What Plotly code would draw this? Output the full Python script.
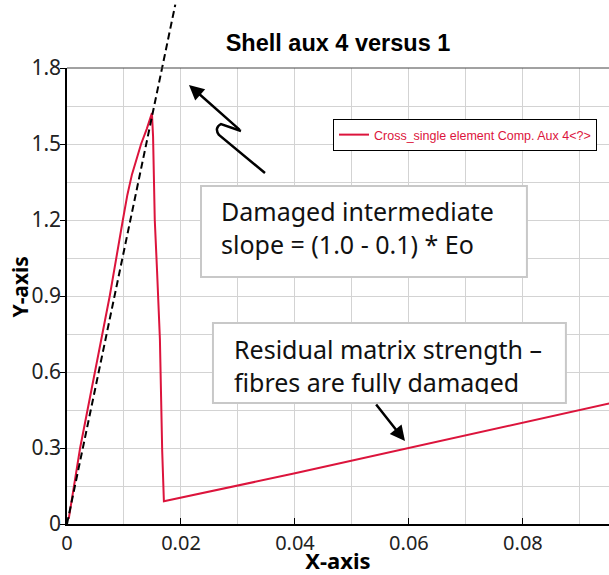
import plotly.graph_objects as go

# ---- data ----
rise_x = [0.0003, 0.0023, 0.0049, 0.0075, 0.0098, 0.0106, 0.0114, 0.0122, 0.0130, 0.0140, 0.0149]
rise_y = [0.02, 0.30, 0.60, 0.90, 1.20, 1.30, 1.38, 1.44, 1.50, 1.56, 1.622]
drop_x = [0.0151, 0.0153, 0.0154, 0.0158, 0.0163, 0.0167, 0.0169, 0.0170]
drop_y = [1.53, 1.35, 1.20, 1.00, 0.73, 0.29, 0.15, 0.09]
resid_x = [0.0400, 0.0600, 0.0960]
resid_y = [0.200, 0.300, 0.480]
curve_x = rise_x + drop_x + resid_x
curve_y = rise_y + drop_y + resid_y

slope_x = [0.0, 0.0190]
slope_y = [0.0, 2.05]

series_name = "Cross_single element Comp. Aux 4&lt;?&gt;"
title_text = "Shell aux 4 versus 1"
x_title = "X-axis"
y_title = "Y-axis"
x_ticks = [0, 0.02, 0.04, 0.06, 0.08]
y_ticks = [0, 0.3, 0.6, 0.9, 1.2, 1.5, 1.8]
note1 = "Damaged intermediate<br>slope = (1.0 - 0.1) * Eo"
note2 = "Residual matrix strength \u2013<br>fibres are fully damaged"

RED = "#dc143c"
X_RANGE = [0, 0.0951]
Y_RANGE = [0, 1.8]
Y_DOM_TOP = 456 / 524

fig = go.Figure()
fig.add_trace(go.Scatter(x=curve_x, y=curve_y, mode="lines", name=series_name,
                         line=dict(color=RED, width=2)))
fig.add_trace(go.Scatter(x=slope_x, y=slope_y, mode="lines", showlegend=False,
                         xaxis="x2", yaxis="y2",
                         line=dict(color="black", width=2, dash="7px,4px")))

grid = "#d3d3d3"
fig.update_layout(
    width=609, height=575, autosize=False,
    margin=dict(l=67, r=0, t=0, b=51, pad=0, autoexpand=False),
    paper_bgcolor="white", plot_bgcolor="rgba(0,0,0,0)",
    title=dict(text=f"<b>{title_text}</b>", x=0.5, xref="paper", xanchor="center",
               y=1 - 43 / 575, yref="container", yanchor="middle", automargin=False,
               font=dict(family="Liberation Sans", size=23.5, color="black")),
    xaxis=dict(range=X_RANGE, domain=[0, 1], tickvals=x_ticks, showgrid=True,
               automargin=False, layer="above traces",
               gridcolor=grid, gridwidth=1,
               minor=dict(dtick=0.01, showgrid=True, gridcolor=grid, gridwidth=1),
               showline=True, linecolor="black", linewidth=2,
               ticks="inside", ticklen=6, tickcolor="black", zeroline=False,
               tickfont=dict(family="Noto Sans", size=20, color="#222"),
               title=dict(text=f"<b>{x_title}</b>", standoff=10,
                          font=dict(family="Noto Sans", size=22, color="black"))),
    yaxis=dict(range=Y_RANGE, domain=[0, Y_DOM_TOP], tickvals=y_ticks, showgrid=True,
               automargin=False, layer="above traces",
               gridcolor=grid, gridwidth=1,
               minor=dict(dtick=0.15, showgrid=True, gridcolor=grid, gridwidth=1),
               showline=True, linecolor="black", linewidth=1.5,
               ticks="outside", ticklen=5, tickcolor="black", zeroline=False,
               ticklabelstandoff=-5,
               tickfont=dict(family="Noto Sans", size=21, color="#222")),
    xaxis2=dict(range=X_RANGE, domain=[0, 1], anchor="y2", visible=False, automargin=False),
    yaxis2=dict(range=[0, Y_RANGE[1] / Y_DOM_TOP], domain=[0, 1], anchor="x2",
                visible=False, automargin=False),
    legend=dict(x=(597 - 67) / 542, xanchor="right", y=(524 - 119) / 524, yanchor="top",
                bgcolor="white", bordercolor="black", borderwidth=1,
                font=dict(family="Liberation Sans", size=12.5, color=RED)),
    showlegend=True,
)

# y axis title
fig.add_annotation(x=-48 / 542, y=(524 - 287.5) / 456, xref="paper", yref="y domain",
                   text=f"<b>{y_title}</b>", textangle=-90, showarrow=False,
                   xanchor="center", yanchor="middle",
                   font=dict(family="Noto Sans", size=21, color="black"))

# top frame line
fig.add_shape(type="line", xref="x domain", yref="y domain", x0=0, x1=1, y0=1, y1=1,
              line=dict(color="#444", width=1))

# note boxes
box_line = dict(color="#c8c8c8", width=2)
fig.add_shape(type="rect", xref="x", yref="y", x0=0.02351, x1=0.08070, y0=0.9750, y1=1.3342,
              line=box_line, fillcolor="white", layer="above")
fig.add_shape(type="rect", xref="x", yref="y", x0=0.02561, x1=0.08754, y0=0.4776, y1=0.7934,
              line=box_line, fillcolor="white", layer="above")
note_font = dict(family="Noto Sans", size=25, color="#111")
fig.add_annotation(x=0.02684, y=1.3065, xref="x", yref="y", text=note1, showarrow=False,
                   xanchor="left", yanchor="top", align="left", borderpad=0, font=note_font)
fig.add_annotation(x=0.02912, y=0.7618, xref="x", yref="y", text=note2, showarrow=False,
                   xanchor="left", yanchor="top", align="left", borderpad=0,
                   height=62, valign="top", font=note_font)

# squiggly arrow body
fig.add_shape(type="path", xref="x", yref="y",
              path="M 0.03053,1.5513 L 0.02702,1.5789 Q 0.02579,1.5632 0.02667,1.5355 L 0.03474,1.3855",
              line=dict(color="black", width=2.5), layer="above")
# arrow heads
fig.add_annotation(x=0.0214, y=1.733, xref="x", yref="y", text="", showarrow=True,
                   ax=52, ay=46, arrowhead=2, arrowsize=1.2, arrowwidth=2.5, arrowcolor="black")
fig.add_annotation(x=0.0593, y=0.3276, xref="x", yref="y", text="", showarrow=True,
                   ax=-30, ay=-38, arrowhead=2, arrowsize=1.2, arrowwidth=2.5, arrowcolor="black")

fig.write_html("out.html")
